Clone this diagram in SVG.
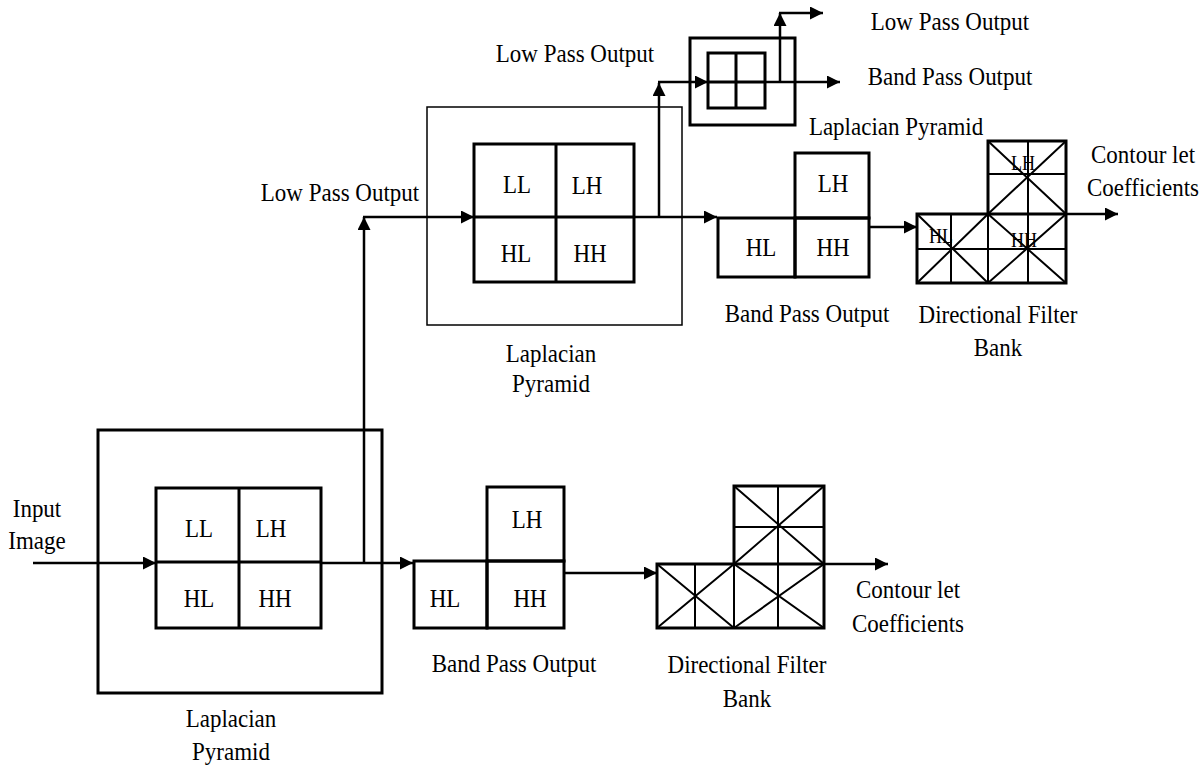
<svg xmlns="http://www.w3.org/2000/svg" width="1204" height="769" viewBox="0 0 1204 769">
<style>
.box{fill:none;stroke:#000;stroke-width:3}
.thin{fill:none;stroke:#000;stroke-width:1.5}
.cell{fill:none;stroke:#000;stroke-width:2}
.wire{fill:none;stroke:#000;stroke-width:2.5}
text{font-family:"Liberation Serif","Times New Roman",serif;font-size:23px;fill:#000;text-anchor:middle}
.sm{font-size:18px}
</style>
<defs>
<marker id="ah" markerUnits="userSpaceOnUse" markerWidth="14" markerHeight="14" refX="13" refY="6.5" orient="auto">
<path d="M0,0 L13,6.5 L0,13 Z" fill="#000"/>
</marker>
</defs>
<rect width="1204" height="769" fill="#fff"/>

<g id="lp-bottom">
<rect class="box" x="98" y="430" width="284" height="263"/>
<rect class="box" x="156" y="488" width="165" height="140"/>
<path class="box" d="M239,488 V628 M156,562 H321"/>
<text transform="translate(199 537) scale(1 1.12)">LL</text>
<text transform="translate(271 537) scale(1 1.12)">LH</text>
<text transform="translate(199 607) scale(1 1.12)">HL</text>
<text transform="translate(275 607) scale(1 1.12)">HH</text>
<text transform="translate(231 727) scale(1 1.12)">Laplacian</text>
<text transform="translate(231 760) scale(1 1.12)">Pyramid</text>
</g>

<g id="input-label">
<text transform="translate(37 517) scale(1 1.12)">Input</text>
<text transform="translate(37 549) scale(1 1.12)">Image</text>
</g>

<g id="bp-bottom">
<rect class="box" x="414" y="561" width="73" height="67"/>
<rect class="box" x="487" y="487" width="77" height="74"/>
<rect class="box" x="487" y="561" width="77" height="67"/>
<text transform="translate(527 528) scale(1 1.12)">LH</text>
<text transform="translate(445 607) scale(1 1.12)">HL</text>
<text transform="translate(530 607) scale(1 1.12)">HH</text>
<text transform="translate(514 672) scale(1 1.12)">Band Pass Output</text>
</g>

<g id="dfb-bottom">
<path class="cell" d="M695,564 V628 M734,564 V628 M778,486 V628 M734,527 H824
M657,564 L734,628 M657,628 L734,564 M734,564 L824,628 M734,628 L824,564 M734,486 L824,564 M734,564 L824,486"/>
<path class="box" d="M657,564 H734 V486 H824 V628 H657 Z M734,564 H824"/>
<text transform="translate(747 673) scale(1 1.12)">Directional Filter</text>
<text transform="translate(747 707) scale(1 1.12)">Bank</text>
</g>

<g id="out-bottom">
<text transform="translate(908 598) scale(1 1.12)">Contour let</text>
<text transform="translate(908 632) scale(1 1.12)">Coefficients</text>
</g>

<g id="lp-upper">
<rect class="thin" x="427" y="107" width="255" height="218"/>
<rect class="box" x="474" y="144" width="160" height="138"/>
<path class="box" d="M556,144 V282 M474,217 H634"/>
<text transform="translate(517 193) scale(1 1.12)">LL</text>
<text transform="translate(587 194) scale(1 1.12)">LH</text>
<text transform="translate(516 262) scale(1 1.12)">HL</text>
<text transform="translate(590 262) scale(1 1.12)">HH</text>
<text transform="translate(551 362) scale(1 1.12)">Laplacian</text>
<text transform="translate(551 392) scale(1 1.12)">Pyramid</text>
</g>

<g id="lp-small">
<rect class="box" x="690" y="38" width="105" height="87"/>
<rect class="box" x="708" y="53" width="57" height="55"/>
<path class="box" d="M736,53 V108 M708,82 H765"/>
<text transform="translate(896 135) scale(1 1.12)">Laplacian Pyramid</text>
</g>

<g id="bp-upper">
<rect class="box" x="718" y="218" width="77" height="59"/>
<rect class="box" x="795" y="153" width="74" height="65"/>
<rect class="box" x="795" y="218" width="74" height="59"/>
<text transform="translate(833 192) scale(1 1.12)">LH</text>
<text transform="translate(761 256) scale(1 1.12)">HL</text>
<text transform="translate(833 256) scale(1 1.12)">HH</text>
<text transform="translate(807 322) scale(1 1.12)">Band Pass Output</text>
</g>

<g id="dfb-upper">
<path class="cell" d="M951,214 V283 M988,214 V283 M1028,141 V283 M988,174 H1066 M917,249 H1066
M917,214 L988,283 M917,283 L988,214 M988,214 L1066,283 M988,283 L1066,214 M988,141 L1066,214 M988,214 L1066,141"/>
<path class="box" d="M917,214 H988 V141 H1066 V283 H917 Z M988,214 H1066"/>
<text class="sm" transform="translate(1023 170) scale(1 1.12)">LH</text>
<text class="sm" transform="translate(941 243) scale(1 1.12)">HL</text>
<text class="sm" transform="translate(1024 247) scale(1 1.12)">HH</text>
<text transform="translate(998 323) scale(1 1.12)">Directional Filter</text>
<text transform="translate(998 356) scale(1 1.12)">Bank</text>
</g>

<g id="out-upper">
<text transform="translate(1143 163) scale(1 1.12)">Contour let</text>
<text transform="translate(1143 196) scale(1 1.12)">Coefficients</text>
</g>

<g id="labels-lowpass">
<text transform="translate(340 201) scale(1 1.12)">Low Pass Output</text>
<text transform="translate(575 62) scale(1 1.12)">Low Pass Output</text>
<text transform="translate(950 30) scale(1 1.12)">Low Pass Output</text>
<text transform="translate(950 85) scale(1 1.12)">Band Pass Output</text>
</g>

<g id="connectors">
<path class="wire" d="M33,563 H156" marker-end="url(#ah)"/>
<path class="wire" d="M321,563 H413" marker-end="url(#ah)"/>
<path class="wire" d="M364,563 V217" marker-end="url(#ah)"/>
<path class="wire" d="M363,217 H474" marker-end="url(#ah)"/>
<path class="wire" d="M634,217 H717" marker-end="url(#ah)"/>
<path class="wire" d="M659,217 V83" marker-end="url(#ah)"/>
<path class="wire" d="M658,82 H708" marker-end="url(#ah)"/>
<path class="wire" d="M765,82 H840" marker-end="url(#ah)"/>
<path class="wire" d="M780,82 V13" marker-end="url(#ah)"/>
<path class="wire" d="M779,13 H823" marker-end="url(#ah)"/>
<path class="wire" d="M869,227 H917" marker-end="url(#ah)"/>
<path class="wire" d="M1066,214 H1118" marker-end="url(#ah)"/>
<path class="wire" d="M564,573 H657" marker-end="url(#ah)"/>
<path class="wire" d="M824,564 H888" marker-end="url(#ah)"/>
</g>
</svg>
